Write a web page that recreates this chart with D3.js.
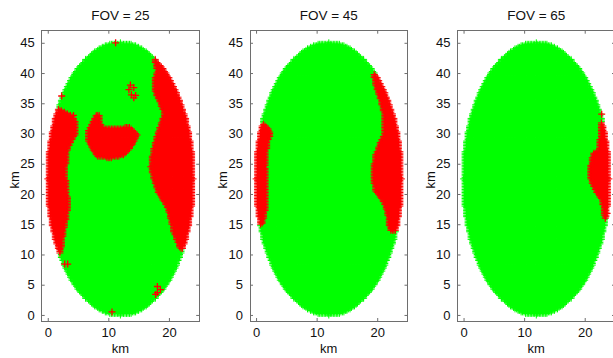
<!DOCTYPE html>
<html>
<head>
<meta charset="utf-8">
<script src="https://cdn.jsdelivr.net/npm/d3@7"></script>
<style>
  html, body { margin: 0; padding: 0; background: #fff; }
  svg { display: block; font-family: "Liberation Sans", Arial, sans-serif; }
</style>
</head>
<body>
<svg id="chart" width="613" height="358"></svg>
<script>
// ---------------- data ----------------
const panelTitles = ["FOV = 25", "FOV = 45", "FOV = 65"];
const xTicks = [0, 10, 20];
const yTicks = [0, 5, 10, 15, 20, 25, 30, 35, 40, 45];
const xDomain = [-1, 25];
const yDomain = [-1, 47];

// footprint of the sampled points (ellipse) and sample spacing, km
const footprintCenter = [12, 22.5];
const footprintRadii = [12, 22.5];
const sampleStep = 0.25;

// red (flagged) regions, polygon outlines in km
const redRegions25 = [
  [[-2,34.5],[1.2,34.3],[2.3,33.8],[4,33],[4.5,32.2],[4.7,30],[4,28.9],[3.4,27.8],[3.1,26.2],[2.9,23.4],[3.1,21.2],[3.4,17.9],[3.1,16.3],[2.6,13.5],[2.3,11.3],[2,10.2],[1.8,9.6],[-2,9.6]],
  [[8.1,33.3],[6.7,30.5],[6.6,28.9],[7.3,27.5],[8.1,26.2],[10.3,25.9],[12.5,26.4],[13.4,27.3],[14.2,28.4],[14.8,29.7],[14.2,30.5],[13.4,31.1],[11.2,30.8],[9.2,30.8],[8.7,31.6],[8.7,33]],
  [[17.5,42.5],[18.1,40.4],[17.5,38.8],[17.8,36.6],[18.6,34.9],[19.2,33.3],[18.6,31.4],[17.8,28.9],[17.2,26.2],[17,24.5],[17.5,22.3],[18.3,20.1],[19.7,17.9],[20.3,15.7],[20.8,13.5],[21.7,11.3],[22.2,10.5],[26,10.5],[26,42.5]]
];
const redRegions45 = [
  [[-2,31.8],[1.2,31.6],[2,31],[2.5,29.9],[2,28.8],[1.7,27.2],[1.5,24.5],[1.7,21.2],[1.7,17.9],[1.2,15.7],[0.8,14.9],[-2,14.9]],
  [[19.3,40],[19.8,37.6],[20.6,35.4],[21.2,32.7],[21.2,29.9],[20.6,28.8],[19.6,26.1],[19.3,23.4],[19.6,20.6],[20.9,19],[21.7,16.8],[22,14.6],[22.3,13.8],[26,13.8],[26,40]]
];
const redRegions65 = [
  [[22.5,32],[22.6,30],[22.3,27.2],[21.4,26.7],[20.9,24.5],[21,22.3],[22,20.1],[22.9,19],[23.1,17.4],[23.4,15.5],[26,15.5],[26,32]]
];

// isolated red samples, km
const redPoints25 = [[2.3,36.2],[4.25,33],[2.8,8.4],[3.3,8.4],[2.0,10.9],[11.2,45],[10.6,0.5],[18.1,4.7],[18.6,4.2],[17.8,3.4],[18.1,3.7],
  [13.65,38],[13.4,37.25],[14.2,37.6],[13.8,36.4],[14.2,35.9],[14.5,36.3],[17.8,41.8],[18.1,41.2]];
const redPoints45 = [[1.0,15.2],[22.4,14.3]];
const redPoints65 = [[22.8,33.2],[23.7,16.8],[23.4,16]];

const panelRegions = [redRegions25, redRegions45, redRegions65];
const panelPoints = [redPoints25, redPoints45, redPoints65];

// ---------------- layout ----------------
const panelLefts = [41.7, 250, 457.5];
const panelWidth = 157.5;
const plotTop = 30.7, plotBottom = 321;
const arm = 3.5;
const green = "#00ff00", red = "#ff0000";

const svg = d3.select("#chart");
svg.append("rect").attr("width", 613).attr("height", 358).attr("fill", "#fff");

function plusPath(pts, x, y) {
  let s = "";
  for (const p of pts) {
    const px = x(p[0]), py = y(p[1]);
    s += "M" + (px - arm).toFixed(1) + "," + py.toFixed(1) + "h" + (2 * arm) +
         "M" + px.toFixed(1) + "," + (py - arm).toFixed(1) + "v" + (2 * arm);
  }
  return s;
}

// samples inside the footprint
const samples = [];
for (let yy = footprintCenter[1] - footprintRadii[1]; yy <= footprintCenter[1] + footprintRadii[1] + 1e-9; yy += sampleStep) {
  for (let xx = footprintCenter[0] - footprintRadii[0]; xx <= footprintCenter[0] + footprintRadii[0] + 1e-9; xx += sampleStep) {
    const dx = (xx - footprintCenter[0]) / footprintRadii[0];
    const dy = (yy - footprintCenter[1]) / footprintRadii[1];
    if (dx * dx + dy * dy <= 1.0001) samples.push([xx, yy]);
  }
}

panelTitles.forEach((title, i) => {
  const left = panelLefts[i];
  const x = d3.scaleLinear().domain(xDomain).range([left, left + panelWidth]);
  const y = d3.scaleLinear().domain(yDomain).range([plotBottom, plotTop]);
  const g = svg.append("g");

  const regions = panelRegions[i];
  const greenPts = [], redPts = [];
  for (const s of samples) {
    if (regions.some(r => d3.polygonContains(r, s))) redPts.push(s); else greenPts.push(s);
  }
  g.append("path").attr("d", plusPath(greenPts, x, y)).attr("stroke", green).attr("stroke-width", 1).attr("fill", "none");
  g.append("path").attr("d", plusPath(redPts, x, y)).attr("stroke", red).attr("stroke-width", 1).attr("fill", "none");
  g.append("path").attr("d", plusPath(panelPoints[i], x, y)).attr("stroke", red).attr("stroke-width", 1.3).attr("fill", "none");

  // axes (MATLAB-like, inward ticks, box)
  const axColor = "#6e6e6e";
  const bottomAx = g.append("g").attr("transform", `translate(0,${plotBottom})`)
    .call(d3.axisBottom(x).tickValues(xTicks).tickSizeInner(-3).tickSizeOuter(0).tickPadding(7));
  const topAx = g.append("g").attr("transform", `translate(0,${plotTop})`)
    .call(d3.axisTop(x).tickValues(xTicks).tickSizeInner(-3).tickSizeOuter(0).tickFormat(""));
  const leftAx = g.append("g").attr("transform", `translate(${left},0)`)
    .call(d3.axisLeft(y).tickValues(yTicks).tickSizeInner(-3).tickSizeOuter(0).tickPadding(7));
  const rightAx = g.append("g").attr("transform", `translate(${left + panelWidth},0)`)
    .call(d3.axisRight(y).tickValues(yTicks).tickSizeInner(-3).tickSizeOuter(0).tickFormat(""));
  [bottomAx, topAx, leftAx, rightAx].forEach(a => {
    a.select(".domain").remove();
    a.selectAll("line").attr("stroke", axColor);
    a.selectAll("text").attr("fill", "#111").style("font-size", "13px").style("font-family", "Liberation Sans, Arial, sans-serif");
  });
  g.append("rect").attr("x", left).attr("y", plotTop).attr("width", panelWidth).attr("height", plotBottom - plotTop)
    .attr("fill", "none").attr("stroke", axColor).attr("stroke-width", 1).attr("shape-rendering", "crispEdges");

  g.append("text").attr("x", left + panelWidth / 2).attr("y", 19.5).attr("text-anchor", "middle")
    .style("font-size", "13.5px").attr("fill", "#111").text(title);
  g.append("text").attr("x", left + panelWidth / 2).attr("y", 353).attr("text-anchor", "middle")
    .style("font-size", "13px").attr("fill", "#111").text("km");
  g.append("text").attr("transform", `translate(${left - 23},${(plotTop + plotBottom) / 2 + 4}) rotate(-90)`)
    .attr("text-anchor", "middle").style("font-size", "13px").attr("fill", "#111").text("km");
});
</script>
</body>
</html>
